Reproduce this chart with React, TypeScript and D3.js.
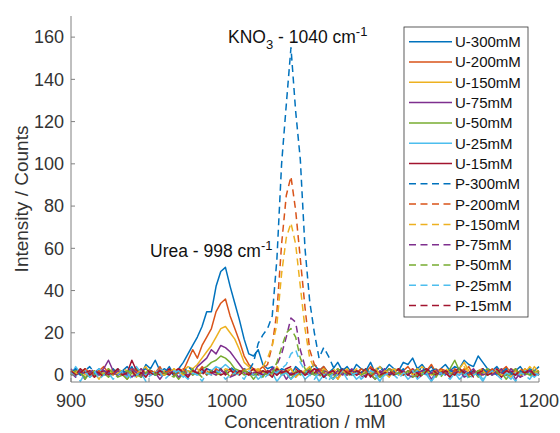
import React from "react";
import * as d3 from "d3";

const xStart = 900;
const xStep = 3;

const u300 = [
  1, 3, 0, 2, -1, 1, 3, 0, 2, 1,
  0, 2, 4, 1, 3, 0, 5, 3, 7, 2,
  1, 4, 0, 3, 6, 10, 14, 18, 23, 30,
  30, 42, 49, 51, 42, 34, 26, 17, 10, 9,
  12, 5, 3, 4, 1, 3, 2, 0, 4, 2,
  1, 3, 5, 2, 4, 1, 3, 6, 2, 4,
  1, 5, 3, 2, 6, 1, 4, 2, 5, 3,
  2, 6, 5, 8, 3, 5, 2, 4, 1, 3,
  5, 2, 4, 3, 7, 5, 4, 9, 6, 3,
  2, 4, 1, 3, 0, 2, 4, 1, 3, 2,
  4,
];
const u200 = [
  2, 0, 1, 3, 1, -1, 2, 4, 1, 0,
  3, 1, -2, 2, 1, 3, 0, 2, 1, 4,
  0, 2, 1, 3, 2, 7, 12, 8, 14, 18,
  22, 30, 34, 36, 28, 22, 16, 9, 5, 3,
  2, 4, 1, 3, 0, 2, 1, 3, -1, 2,
  1, 3, 0, 2, 4, 1, 2, -2, 3, 1,
  2, 0, 3, 1, 4, 2, -1, 1, 3, 2,
  0, 2, 4, 1, 3, 0, 2, 5, 1, 3,
  2, -1, 3, 1, 2, 4, 0, 2, 3, 1,
  3, 0, 2, 4, 1, 2, -1, 3, 1, 2,
  0,
];
const u150 = [
  0, 1, 3, 0, 2, 1, -2, 2, 1, 3,
  1, 0, 2, 1, -1, 3, 1, 2, 0, 1,
  2, 0, 3, 1, 2, 4, 3, 5, 8, 11,
  14, 18, 22, 23, 20, 17, 12, 6, 4, 2,
  3, 1, 2, 0, 4, 1, 2, 3, -1, 1,
  2, 4, 1, 0, 3, 1, 2, -2, 1, 3,
  0, 2, 1, 3, 0, 2, 4, 1, -1, 2,
  3, 1, 0, 2, 1, 4, 2, 0, 3, 1,
  2, 0, 1, 3, 6, 2, 0, 2, 1, 3,
  0, 2, 3, 1, -1, 2, 1, 3, 0, 4,
  1,
];
const u75 = [
  3, 0, 1, -2, 2, 0, 1, 3, 7, 2,
  0, 1, 2, -1, 1, 3, 0, 2, 1, -2,
  1, 2, 0, 3, 1, 2, 0, 4, 6, 8,
  12, 10, 14, 13, 11, 8, 5, 2, 1, 0,
  2, 0, 1, 3, 0, 2, -2, 1, 0, 2,
  0, 1, 3, 0, 2, 1, -2, 2, 0, 1,
  3, 0, 1, 2, 0, -2, 2, 1, 3, 0,
  1, 2, 0, 3, 1, 0, 2, -2, 1, 2,
  0, 3, 1, 0, 2, 1, 3, 0, 1, 2,
  0, 1, 3, 0, 2, -2, 1, 0, 2, 1,
  0,
];
const u50 = [
  1, 0, 2, -2, 1, 0, 2, 1, -1, 1,
  2, 0, -2, 1, 3, 0, 1, 2, 0, 1,
  0, 2, 1, -2, 1, 2, 0, 1, 3, 4,
  6, 7, 9, 8, 6, 3, 2, 0, 1, -2,
  1, 2, 0, 1, 3, 0, 1, -2, 2, 0,
  1, 3, 0, 2, 1, 0, -2, 2, 1, 0,
  2, 1, 0, 3, 1, -2, 0, 2, 1, 0,
  1, 0, 2, 1, 3, 0, 2, 1, -1, 2,
  1, 3, 7, 2, 0, 1, 2, -1, 1, 3,
  0, 2, 1, -2, 1, 0, 2, 1, 0, 1,
  2,
];
const u25 = [
  0, 4, 1, 2, -1, 1, 3, 0, 2, 1,
  3, 1, -1, 2, 4, 1, 0, 2, 1, 3,
  1, 0, 2, 1, -1, 2, 1, 0, 2, 3,
  2, 4, 3, 5, 3, 2, 1, 3, 0, 1,
  -2, 0, 2, 1, -3, 0, 1, -2, 0, 2,
  -2, 0, 1, -3, 0, 1, -2, 0, 2, 0,
  1, -2, 0, 2, 1, 0, -3, 1, 0, 2,
  0, 1, -2, 0, 2, 1, 0, -3, 1, 0,
  2, 0, 1, -2, 0, 1, 2, 0, -3, 1,
  0, 2, 1, 0, -2, 1, 0, 2, 1, -1,
  1,
];
const u15 = [
  2, 0, 3, 1, 2, -1, 1, 2, 0, 1,
  0, 2, 1, 7, 2, 1, -1, 2, 1, 0,
  1, 3, 0, 2, 1, -1, 2, 1, 3, 0,
  2, 1, 3, 0, 2, 1, 0, 2, 1, 3,
  0, 2, 1, -1, 3, 1, 2, 0, 1, 2,
  0, 1, 3, 2, -1, 1, 2, 0, 3, 1,
  2, 0, 1, 3, -1, 2, 1, 2, 0, 1,
  3, 0, 2, 1, -1, 2, 3, 1, 0, 2,
  1, -1, 2, 3, 1, 0, 2, 1, 3, 0,
  2, 1, -1, 2, 1, 3, 0, 1, 2, 0,
  1,
];
const p300 = [
  1, 3, 0, 2, 4, 1, 0, 2, 1, 3,
  0, 2, 1, 4, 0, 2, 3, 1, 0, 2,
  3, 1, 0, 2, 1, 4, 2, 0, 1, 3,
  2, 0, 3, 1, 4, 2, 1, 3, 2, 6,
  15, 19, 22, 28, 55, 100, 128, 155, 125, 102,
  60, 35, 20, 8, 13, 9, 4, 2, 3, 1,
  0, 2, 1, 3, 0, 2, 4, 1, 0, 2,
  1, 3, 0, 2, 1, 4, 0, 2, 3, 1,
  0, 2, 1, 3, 0, 1, 2, 0, 3, 1,
  2, 0, 1, 3, 1, 0, 2, 1, 0, 2,
  1,
];
const p200 = [
  0, 2, 1, 3, 0, 1, 2, -1, 3, 1,
  2, 0, 1, 3, 2, -1, 1, 2, 0, 3,
  1, 2, 0, 1, 3, 0, 2, 1, 4, 2,
  0, 3, 1, 2, -1, 2, 1, 3, 0, 2,
  1, 3, 5, 14, 30, 62, 85, 94, 78, 55,
  32, 12, 5, 3, 1, 2, 0, 3, 1, 2,
  0, 1, 3, 2, -1, 1, 2, 0, 3, 1,
  2, 0, 1, 3, 0, 2, 1, -1, 2, 3,
  1, 0, 2, 1, 3, 0, 1, 2, -1, 1,
  3, 1, 0, 2, 1, 0, 3, 1, 2, 0,
  2,
];
const p150 = [
  2, 1, 0, 3, 1, 2, 0, 1, 3, 0,
  1, 3, 2, 0, 1, 2, 4, 0, 2, 1,
  0, 1, 3, 2, 0, 2, 1, 3, 0, 1,
  2, 0, 1, 3, 2, 0, 1, 2, 3, 1,
  2, 4, 8, 14, 24, 48, 65, 72, 62, 42,
  22, 8, 3, 1, 2, 0, 3, 1, 2, 0,
  1, 3, 0, 2, 1, 4, 0, 2, 1, 3,
  0, 1, 2, 0, 3, 1, 2, 0, 1, 2,
  3, 1, 0, 2, 4, 1, 0, 3, 2, 0,
  1, 2, 0, 1, 3, 2, 0, 1, 4, 2,
  0,
];
const p75 = [
  1, -1, 2, 0, 1, 3, 0, 2, 1, 0,
  2, 1, 0, 3, 1, -1, 2, 0, 1, 2,
  0, 1, 2, -1, 1, 0, 2, 1, 0, 3,
  1, 0, 2, 1, -1, 0, 2, 1, 0, 1,
  2, 0, 1, 3, 5, 10, 18, 27, 25, 12,
  4, 1, 0, 2, -1, 1, 0, 2, 1, 0,
  2, 1, -1, 0, 2, 1, 0, 3, 1, 0,
  1, 2, 0, -1, 1, 2, 0, 1, 3, 0,
  2, 0, 1, 2, -1, 0, 1, 2, 0, 1,
  0, 2, 1, 0, 3, 1, -1, 0, 2, 1,
  0,
];
const p50 = [
  0, 2, 1, -1, 0, 2, 1, 0, 3, 1,
  -1, 0, 2, 1, 0, -1, 1, 3, 0, 2,
  1, 0, -1, 2, 1, 0, 3, 1, -1, 0,
  2, 1, 0, 2, -1, 1, 0, 2, 1, 0,
  1, -1, 2, 1, 6, 13, 20, 22, 18, 8,
  3, 0, 1, -1, 2, 0, 1, 3, 0, 1,
  -1, 2, 0, 1, 0, 2, -1, 1, 3, 0,
  1, 0, 2, -1, 0, 1, 2, 0, 1, -1,
  2, 1, 0, 3, 1, -1, 0, 2, 1, 0,
  1, 2, -1, 0, 1, 3, 0, 1, -1, 2,
  0,
];
const p25 = [
  1, 0, -3, 1, 0, 2, -2, 0, 1, -2,
  0, 2, 1, -2, 0, 1, -3, 0, 2, 1,
  -2, 0, 1, 2, 0, -2, 1, 0, -3, 1,
  0, 2, 1, -2, 0, 1, 0, -2, 2, 0,
  1, -2, 0, 2, 1, 3, 5, 10, 12, 6,
  2, 0, -2, 1, 0, -3, 1, 0, 2, -2,
  0, 1, -2, 0, 2, 1, -3, 0, 1, 0,
  -2, 1, 0, 2, -2, 0, 1, -3, 0, 1,
  0, -2, 1, 0, 2, -2, 0, 1, -2, 0,
  2, 0, -2, 1, 0, -3, 1, 0, -2, 1,
  0,
];
const p15 = [
  2, 0, 1, 3, 0, 2, 1, -1, 2, 1,
  3, 0, 1, 2, -1, 1, 3, 1, 0, 2,
  1, 0, 2, 3, 1, -1, 2, 1, 0, 3,
  1, 2, 0, 1, 3, 0, 2, 1, 0, 2,
  1, 0, 2, 1, 0, 2, 3, 4, 3, 1,
  0, 2, 1, 3, -1, 1, 2, 0, 3, 1,
  0, 2, 1, -1, 3, 2, 0, 1, 2, 0,
  3, 1, 0, 2, 1, -1, 2, 3, 1, 0,
  2, 1, 0, 3, 1, 2, -1, 1, 2, 0,
  1, 3, 0, 2, 1, 0, 2, 1, 3, 0,
  1,
];

const seriesNames = [
  "U-300mM", "U-200mM", "U-150mM", "U-75mM", "U-50mM", "U-25mM", "U-15mM",
  "P-300mM", "P-200mM", "P-150mM", "P-75mM", "P-50mM", "P-25mM", "P-15mM",
];
const seriesValues = [u300, u200, u150, u75, u50, u25, u15, p300, p200, p150, p75, p50, p25, p15];
const palette = ["#0072BD", "#D95319", "#EDB120", "#7E2F8E", "#77AC30", "#4DBEEE", "#A2142F"];
const xTicks = [900, 950, 1000, 1050, 1100, 1150, 1200];
const yTicks = [0, 20, 40, 60, 80, 100, 120, 140, 160];

const FONT = "'Liberation Sans', Arial, Helvetica, sans-serif";

export default function App() {
  const x = d3.scaleLinear().domain([900, 1200]).range([71, 539]);
  const y = d3.scaleLinear().domain([-3.3, 170]).range([382, 16]);
  const line = d3
    .line<number>()
    .x((_, i) => x(xStart + i * xStep))
    .y((v) => y(v));

  const legX = 404, legY = 27, legW = 124, legH = 290;
  const rowH = 20.3;

  return (
    <svg width={560} height={433} style={{ position: "absolute", left: 0, top: 0, background: "#fff" }} fontFamily={FONT}>
      <rect x={0} y={0} width={560} height={433} fill="#fff" />
      <g>
        {seriesValues.map((vals, k) => (
          <path
            key={k}
            d={line(vals) || ""}
            fill="none"
            stroke={palette[k % 7]}
            strokeWidth={1.5}
            strokeDasharray={k >= 7 ? "7,4.5" : undefined}
            strokeLinejoin="round"
          />
        ))}
      </g>
      <line x1={71} x2={539} y1={382} y2={382} stroke="#808080" strokeWidth={1} />
      <line x1={71} x2={71} y1={16} y2={382} stroke="#808080" strokeWidth={1} />
      {xTicks.map((t) => (
        <g key={"x" + t}>
          <line x1={x(t)} x2={x(t)} y1={382} y2={378} stroke="#808080" />
          <text x={x(t)} y={407} textAnchor="middle" fontSize={18} fill="#333">
            {t}
          </text>
        </g>
      ))}
      {yTicks.map((t) => (
        <g key={"y" + t}>
          <line x1={71} x2={75} y1={y(t)} y2={y(t)} stroke="#808080" />
          <text x={64} y={y(t)} dy="0.35em" textAnchor="end" fontSize={18} fill="#333">
            {t}
          </text>
        </g>
      ))}
      <text x={305} y={428} textAnchor="middle" fontSize={18.5} fill="#333">
        Concentration / mM
      </text>
      <text transform="translate(28,199) rotate(-90)" textAnchor="middle" fontSize={19} fill="#333">
        Intensity / Counts
      </text>
      <text x={228} y={43} fontSize={17.5} fill="#111">
        KNO<tspan fontSize={13} dy={6}>3</tspan>
        <tspan dy={-6}> - 1040 cm</tspan>
        <tspan fontSize={13} dy={-7}>-1</tspan>
      </text>
      <text x={150} y={257} fontSize={17.5} fill="#111">
        Urea - 998 cm<tspan fontSize={13} dy={-7}>-1</tspan>
      </text>
      <rect x={legX} y={legY} width={legW} height={legH} fill="#fff" stroke="#333" strokeWidth={0.8} />
      {seriesNames.map((name, k) => {
        const cy = legY + 14.7 + k * rowH;
        return (
          <g key={name}>
            <line
              x1={409}
              x2={452}
              y1={cy}
              y2={cy}
              stroke={palette[k % 7]}
              strokeWidth={1.5}
              strokeDasharray={k >= 7 ? "7,4.5" : undefined}
            />
            <text x={455} y={cy} dy="0.36em" fontSize={15} fill="#111">
              {name}
            </text>
          </g>
        );
      })}
    </svg>
  );
}
